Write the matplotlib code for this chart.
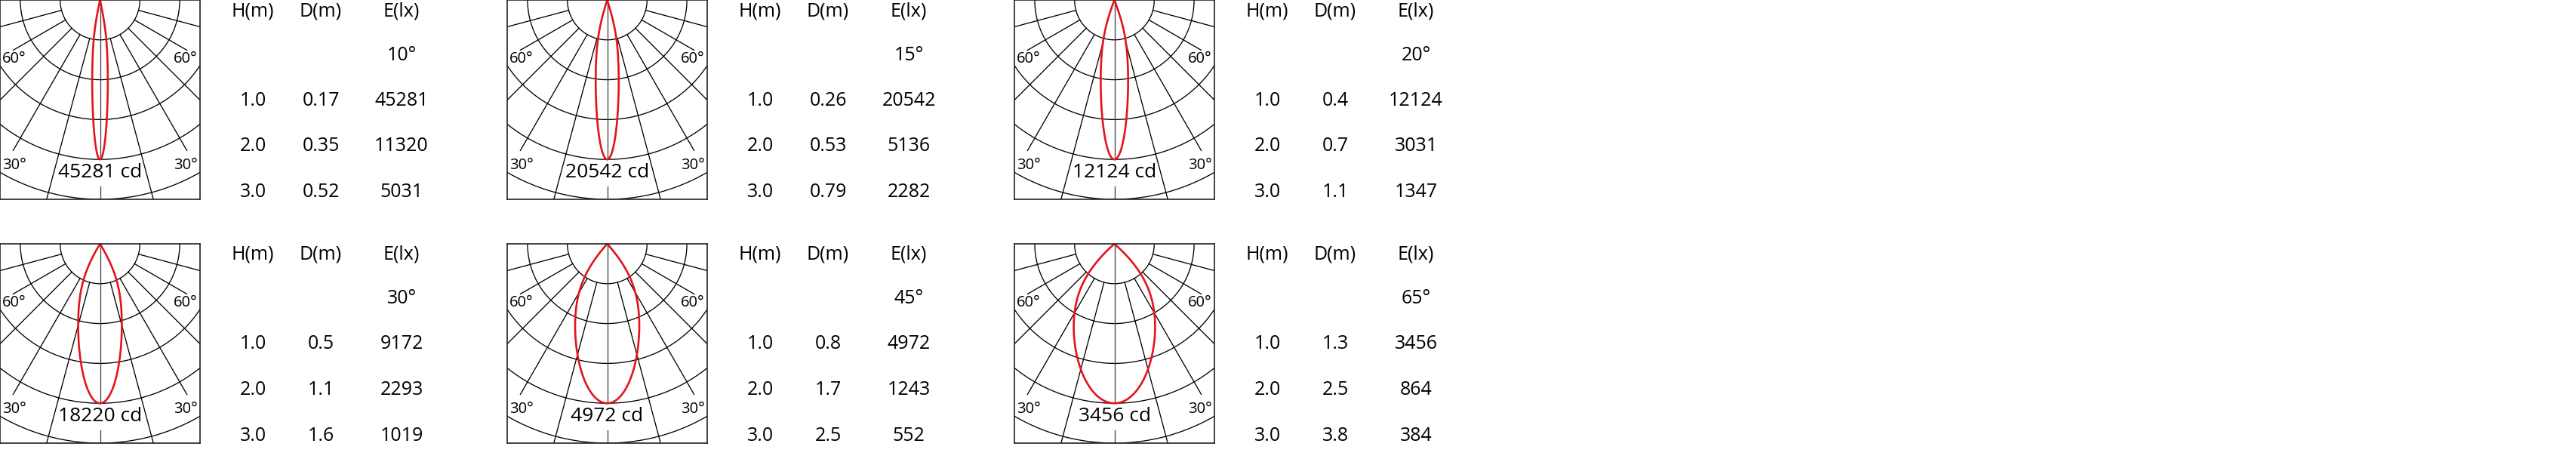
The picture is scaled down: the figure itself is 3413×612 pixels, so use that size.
import numpy as np
import matplotlib
matplotlib.use("Agg")
import matplotlib.pyplot as plt

plt.rcParams['font.family'] = ['Open Sans', 'DejaVu Sans']

# ---------------------------------------------------------------
# data
# ---------------------------------------------------------------
beam_angles = [10, 15, 20, 30, 45, 65]               # beam angle (deg)
peak_cd = [45281, 20542, 12124, 18220, 4972, 3456]   # peak intensity (cd)
lobe_w = [0.196, 0.29, 0.345, 0.55, 0.81, 1.03]      # lobe half width, in grid rings
heights = [1.0, 2.0, 3.0]                            # H (m)
diameters = [[0.17, 0.35, 0.52],
             [0.26, 0.53, 0.79],
             [0.4, 0.7, 1.1],
             [0.5, 1.1, 1.6],
             [0.8, 1.7, 2.5],
             [1.3, 2.5, 3.8]]                        # D (m)
illum = [[45281, 11320, 5031],
         [20542, 5136, 2282],
         [12124, 3031, 1347],
         [9172, 2293, 1019],
         [4972, 1243, 552],
         [3456, 864, 384]]                           # E (lx)
headers = ['H(m)', 'D(m)', 'E(lx)']

# panel boxes in pixels: left, width, top
W, H = 3413, 612
boxes = [(0, 265, 0), (672, 265, 0), (1344, 265, 0),
         (0, 265, 323), (672, 265, 323), (1344, 265, 323)]
box_h = 264

fig = plt.figure(figsize=(W / 100, H / 100), dpi=100)

red = '#e3141c'
grid_lw = 0.95


def lobe(w, R=4.0):
    # elliptical polar lobe, tapered so the top comes to a point
    tc = np.arctan(1.1 * w)
    th = np.linspace(-tc, tc, 600)
    r = np.cos(th) / (np.sin(th) ** 2 / w ** 2 + np.cos(th) ** 2 / (R / 2) ** 2)
    r = r * (1 - (np.abs(th) / tc) ** 8)
    return r * np.sin(th), -r * np.cos(th)


for i in range(6):
    x0, bw, top = boxes[i]
    ax = fig.add_axes([x0 / W, 1 - (top + box_h) / H, bw / W, box_h / H])
    ax.set_xlim(-2.51, 2.51)
    ax.set_ylim(-5.0, 0)
    ax.set_xticks([])
    ax.set_yticks([])
    for s in ax.spines.values():
        s.set_linewidth(1.2)
        s.set_color('#222222')

    # circles
    t = np.linspace(-np.pi / 2, np.pi / 2, 400)
    for r in range(1, 7):
        ax.plot(r * np.sin(t), -r * np.cos(t), color='black', lw=grid_lw)

    # spokes every 15 degrees
    for a in [15, 30, 45, 60, 75]:
        ar = np.radians(a)
        if a in (30, 60):
            r_end = 2.18 / np.sin(ar)
        else:
            r_end = 7
        for sgn in (-1, 1):
            ax.plot([sgn * np.sin(ar), sgn * r_end * np.sin(ar)],
                    [-np.cos(ar), -r_end * np.cos(ar)], color='black', lw=grid_lw)
    ax.plot([0, 0], [0, -4], color='#444444', lw=grid_lw)
    ax.plot([0, 0], [-4.68, -5], color='#444444', lw=grid_lw)

    # angle labels
    for sgn in (-1, 1):
        ax.text(sgn * 2.15, -1.48, '60°', fontsize=14.5, ha='center', va='center')
        ax.text(sgn * 2.15, -4.14, '30°', fontsize=14.5, ha='center', va='center')

    # light distribution lobe
    lx, ly = lobe(lobe_w[i])
    ax.plot(lx, ly, color=red, lw=1.9)

    ax.text(0, -4.33, '%d cd' % peak_cd[i], fontsize=19, ha='center', va='center')

    # table to the right
    right = x0 + bw
    cols = [right + 70, right + 160, right + 267]
    rows_y = [top + 14.5, top + 73, top + 133, top + 193.5, top + 254.5]
    for c, txt in zip(cols, headers):
        fig.text(c / W, 1 - rows_y[0] / H, txt, fontsize=18, ha='center', va='center')
    fig.text(cols[2] / W, 1 - rows_y[1] / H, '%d°' % beam_angles[i],
             fontsize=18, ha='center', va='center')
    for k in range(3):
        y = 1 - rows_y[2 + k] / H
        fig.text(cols[0] / W, y, '%.1f' % heights[k], fontsize=18, ha='center', va='center')
        fig.text(cols[1] / W, y, str(diameters[i][k]), fontsize=18, ha='center', va='center')
        fig.text(cols[2] / W, y, str(illum[i][k]), fontsize=18, ha='center', va='center')

fig.savefig('out.png', dpi=100)
